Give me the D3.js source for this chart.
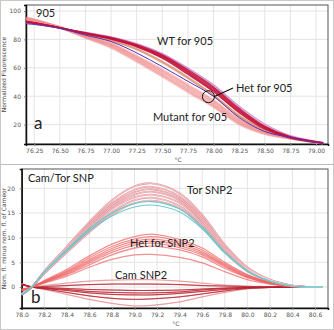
<!DOCTYPE html>
<html>
<head>
<meta charset="utf-8">
<script src="https://cdn.jsdelivr.net/npm/d3@7"></script>
<style>
  body { margin: 0; background: #fff; }
  .tick text { font-family: "DejaVu Sans", sans-serif; font-size: 6px; fill: #555; }
  .note { font-family: Lato, sans-serif; font-size: 11px; fill: #222; }
</style>
</head>
<body>
<script>
// ---- panel a: normalized melt curves ----
var tempsA = [76.17, 76.25, 76.5, 76.75, 77.0, 77.25, 77.5, 77.75, 78.0, 78.25, 78.5, 78.75, 79.0, 79.07]
var ticksA_x = [76.25, 76.5, 76.75, 77.0, 77.25, 77.5, 77.75, 78.0, 78.25, 78.5, 78.75, 79.0]
var ticksA_y = [20, 40, 60, 80, 100]

var mutant905 = [
  [95.3, 94.0, 88.7, 82.9, 77.2, 68.3, 58.6, 48.0, 37.2, 24.0, 15.6, 11.0, 7.8, 7.1],
  [95.0, 93.8, 88.6, 82.5, 76.5, 67.5, 57.5, 46.8, 36.0, 23.0, 15.0, 10.8, 7.7, 7.0],
  [94.5, 93.4, 88.4, 82.0, 75.8, 66.5, 56.3, 45.5, 34.8, 22.0, 14.5, 10.6, 7.6, 7.0],
  [94.0, 93.0, 88.3, 81.6, 75.0, 65.5, 55.0, 44.2, 33.5, 21.2, 14.0, 10.4, 7.6, 7.0],
  [93.6, 92.7, 88.2, 81.2, 74.2, 64.5, 54.0, 43.0, 32.5, 20.3, 13.5, 10.2, 7.5, 6.9]
]
var het905 = [
  [92.2, 91.4, 88.0, 83.6, 79.5, 73.5, 64.5, 53.5, 41.0, 26.5, 16.5, 11.0, 7.8, 7.1],
  [92.4, 91.5, 88.0, 83.3, 79.0, 72.8, 63.6, 52.5, 40.0, 25.8, 16.1, 10.9, 7.8, 7.1]
]
var wt905 = [
  [92.0, 91.3, 88.0, 84.6, 81.3, 76.2, 69.0, 58.5, 46.5, 31.5, 19.0, 11.5, 8.0, 7.2],
  [92.3, 91.5, 88.1, 84.4, 80.9, 75.8, 68.3, 57.5, 45.5, 30.5, 18.3, 11.2, 7.9, 7.1],
  [92.6, 91.7, 88.2, 84.2, 80.5, 75.3, 67.5, 56.5, 44.3, 29.5, 17.7, 10.9, 7.8, 7.0],
  [92.8, 91.8, 88.2, 84.0, 80.2, 74.8, 66.8, 55.5, 43.3, 28.5, 17.0, 10.6, 7.7, 7.0]
]
var lilac905 = [91.5, 90.8, 87.9, 84.9, 81.8, 77.0, 70.0, 59.8, 48.0, 33.0, 20.5, 12.3, 8.3, 7.4]
var purple905 = [91.0, 90.5, 87.8, 83.0, 78.5, 70.5, 60.8, 50.5, 40.0, 25.0, 15.2, 11.0, 7.6, 7.0]

// ---- panel b: difference curves ----
var tempsB = [78.0, 78.09, 78.2, 78.4, 78.6, 78.8, 79.0, 79.15, 79.4, 79.6, 79.8, 80.0, 80.2, 80.4, 80.6, 80.67]
var ticksB_x = [78.0, 78.2, 78.4, 78.6, 78.8, 79.0, 79.2, 79.4, 79.6, 79.8, 80.0, 80.2, 80.4, 80.6]
var ticksB_y = [0, 5, 10, 15, 20]

var torSNP2 = [
  [-1.6, 0, 3.2, 8.2, 13.2, 17.6, 20.4, 21.0, 19.0, 14.6, 8.6, 4.0, 1.5, 0.3, 0, 0],
  [-1.5, 0, 3.1, 8.0, 12.8, 17.0, 19.7, 20.3, 18.4, 14.1, 8.3, 3.8, 1.4, 0.3, 0, 0],
  [-1.5, 0, 3.0, 7.8, 12.5, 16.6, 19.2, 19.8, 17.9, 13.7, 8.0, 3.7, 1.4, 0.3, 0, 0],
  [-1.4, 0, 3.0, 7.6, 12.2, 16.2, 18.7, 19.3, 17.5, 13.4, 7.8, 3.6, 1.3, 0.2, 0, 0],
  [-1.4, 0, 2.9, 7.4, 11.9, 15.8, 18.2, 18.7, 17.0, 13.0, 7.5, 3.4, 1.3, 0.2, 0, 0],
  [-1.4, 0, 2.8, 7.2, 11.5, 15.2, 17.6, 18.1, 16.4, 12.5, 7.2, 3.3, 1.2, 0.2, 0, 0],
  [-1.3, 0, 2.7, 7.0, 11.1, 14.7, 17.0, 17.5, 15.9, 12.1, 7.0, 3.2, 1.2, 0.2, 0, 0]
]
var torCyan = [
  [-1.6, 0, 3.0, 7.6, 11.8, 15.0, 16.9, 17.3, 15.8, 12.2, 7.1, 3.3, 1.2, 0.2, 0, 0],
  [-1.5, 0, 2.9, 7.3, 11.4, 14.4, 16.2, 16.6, 15.2, 11.8, 6.9, 3.2, 1.2, 0.2, 0, 0]
]
var hetSNP2 = [
  [-0.8, 0, 1.3, 3.6, 6.3, 8.7, 10.2, 10.7, 9.6, 7.9, 5.0, 2.5, 1.0, 0.2, 0, 0],
  [-0.7, 0, 1.2, 3.3, 5.9, 8.2, 9.7, 10.2, 9.2, 7.5, 4.7, 2.4, 0.9, 0.2, 0, 0],
  [-0.7, 0, 1.1, 3.1, 5.5, 7.8, 9.3, 9.7, 8.8, 7.1, 4.5, 2.2, 0.9, 0.2, 0, 0],
  [-0.6, 0, 1.0, 2.9, 5.2, 7.4, 8.9, 9.3, 8.4, 6.8, 4.3, 2.1, 0.8, 0.2, 0, 0],
  [-0.6, 0, 1.0, 2.7, 4.9, 7.0, 8.5, 8.9, 8.0, 6.5, 4.1, 2.0, 0.8, 0.1, 0, 0],
  [-0.5, 0, 0.9, 2.5, 4.5, 6.5, 7.9, 8.3, 7.5, 6.1, 3.8, 1.9, 0.7, 0.1, 0, 0],
  [-0.5, 0, 0.8, 2.2, 4.0, 5.6, 6.5, 6.6, 6.0, 4.9, 3.1, 1.5, 0.6, 0.1, 0, 0]
]
var camSNP2 = [
  [0.6, 0, 0.3, 0.8, 1.2, 1.4, 1.5, 1.5, 1.2, 0.8, 0.4, 0.2, 0.1, 0, 0, 0],
  [0.5, 0, 0.1, 0.3, 0.5, 0.6, 0.6, 0.6, 0.5, 0.3, 0.2, 0.1, 0, 0, 0, 0],
  [0.5, 0, -0.1, -0.3, -0.5, -0.6, -0.7, -0.7, -0.6, -0.4, -0.2, -0.1, 0, 0, 0, 0],
  [0.6, 0, -0.2, -0.5, -0.9, -1.1, -1.2, -1.2, -1.0, -0.6, -0.3, -0.1, 0, 0, 0, 0],
  [0.6, 0, -0.3, -0.7, -1.2, -1.5, -1.6, -1.6, -1.3, -0.9, -0.5, -0.2, -0.1, 0, 0, 0],
  [0.6, 0, -0.4, -1.1, -1.8, -2.3, -2.5, -2.4, -2.0, -1.4, -0.8, -0.3, -0.1, 0, 0, 0],
  [0.7, 0, -0.5, -1.5, -2.5, -3.3, -3.8, -3.7, -3.0, -2.0, -1.1, -0.4, -0.1, 0, 0, 0]
]

svgWidth = 334
svgHeight = 330

var svg = d3.select("body").append("svg")
          .attr("width", svgWidth)
          .attr("height", svgHeight)

svg.append("rect")
    .attr("x", 0.5).attr("y", 0.5)
    .attr("width", svgWidth - 1).attr("height", svgHeight - 1)
    .attr("fill", "#fff").attr("stroke", "#c8c8c8")

svg.append("line")
    .attr("x1", 0).attr("x2", svgWidth)
    .attr("y1", 164.5).attr("y2", 164.5)
    .attr("stroke", "#bdbdbd")

function drawPanel(box, xDomain, yDomain, xTicks, yTicks, xFmt, yLabel, yLabelX, yTickRight) {
  var x = d3.scaleLinear().domain(xDomain).range([box.left, box.right])
  var y = d3.scaleLinear().domain(yDomain).range([box.bottom, box.top])

  var g = svg.append("g")

  // grid
  g.selectAll(".vgrid").data(xTicks).enter().append("line")
      .attr("x1", function(d) { return x(d) }).attr("x2", function(d) { return x(d) })
      .attr("y1", box.top).attr("y2", box.bottom)
      .attr("stroke", "#e4e4e4")
  g.selectAll(".hgrid").data(yTicks).enter().append("line")
      .attr("x1", box.left).attr("x2", box.right)
      .attr("y1", function(d) { return y(d) }).attr("y2", function(d) { return y(d) })
      .attr("stroke", "#e4e4e4")

  // frame
  g.append("rect")
      .attr("x", box.left).attr("y", box.top)
      .attr("width", box.right - box.left).attr("height", box.bottom - box.top)
      .attr("fill", "none").attr("stroke", "#555")

  var xAxis = d3.axisBottom(x).tickValues(xTicks).tickFormat(xFmt).tickSize(2).tickPadding(3)
  var gx = g.append("g")
      .attr("transform", "translate(0," + box.bottom + ")")
      .call(xAxis)
  gx.select(".domain").attr("stroke", "#111").attr("stroke-width", 1.5)
  gx.selectAll(".tick line").attr("stroke", "#888")

  var yAxis = d3.axisLeft(y).tickValues(yTicks).tickSize(2).tickPadding(box.left - yTickRight - 2)
  var gy = g.append("g")
      .attr("transform", "translate(" + box.left + ",0)")
      .call(yAxis)
  gy.select(".domain").attr("stroke", "#111").attr("stroke-width", 1.5)
  gy.selectAll(".tick line").attr("stroke", "#888")

  g.append("text")
      .attr("x", (box.left + box.right) / 2 + 1)
      .attr("y", box.bottom + 18)
      .attr("text-anchor", "middle")
      .style("font-family", "DejaVu Sans, sans-serif")
      .style("font-size", "6px").style("fill", "#555")
      .text("°C")

  g.append("text")
      .attr("transform", "translate(" + yLabelX + "," + ((box.top + box.bottom) / 2) + ") rotate(-90)")
      .attr("text-anchor", "middle")
      .style("font-family", "DejaVu Sans, sans-serif")
      .style("font-size", "6px").style("fill", "#444")
      .text(yLabel)

  return {x: x, y: y, g: g}
}

function drawCurves(p, temps, series, color, width, opacity) {
  var line = d3.line()
      .x(function(d, i) { return p.x(temps[i]) })
      .y(function(d) { return p.y(d) })
      .curve(d3.curveCatmullRom.alpha(0.5))
  p.g.append("g").selectAll("path")
      .data(series).enter().append("path")
      .attr("d", line)
      .attr("fill", "none")
      .attr("stroke", color)
      .attr("stroke-width", width)
      .attr("stroke-opacity", opacity)
}

// panel a
var pa = drawPanel({left: 26, right: 328, top: 5, bottom: 144},
    [76.17, 79.117], [6.4, 104.2], ticksA_x, ticksA_y, d3.format(".2f"),
    "Normalized Fluorescence", 6, 21)

drawCurves(pa, tempsA, mutant905, "#f08a8a", 2.2, 0.55)
drawCurves(pa, tempsA, het905, "#d9906e", 1.4, 0.85)
drawCurves(pa, tempsA, [lilac905], "#c48ad6", 1.3, 0.9)
drawCurves(pa, tempsA, wt905, "#c3113a", 1.5, 0.9)
drawCurves(pa, tempsA, [purple905], "#5630b8", 1.0, 1)

pa.g.append("text").attr("class", "note").attr("x", 36).attr("y", 17).text("905")
pa.g.append("text").attr("class", "note").attr("x", 34).attr("y", 129).style("font-size", "17px").text("a")
pa.g.append("text").attr("class", "note").attr("x", 157).attr("y", 44.5).text("WT for 905")
pa.g.append("text").attr("class", "note").attr("x", 153).attr("y", 120.5).text("Mutant for 905")
pa.g.append("text").attr("class", "note").attr("x", 236).attr("y", 91.5).text("Het for 905")

var cx = pa.x(77.95), cy = pa.y(39.7)
pa.g.append("circle").attr("cx", cx).attr("cy", cy).attr("r", 6)
    .attr("fill", "none").attr("stroke", "#111").attr("stroke-width", 1)
pa.g.append("line")
    .attr("x1", cx + 5.5).attr("y1", cy).attr("x2", 233).attr("y2", 88)
    .attr("stroke", "#111").attr("stroke-width", 1.2)

// panel b
var pb = drawPanel({left: 21.7, right: 328, top: 169, bottom: 308},
    [78.0, 80.715], [-4.25, 23.9], ticksB_x, ticksB_y, d3.format(".1f"),
    "Nom. fl. minus nom. fl. of Cameor", 6, 15)

drawCurves(pb, tempsB, camSNP2, "#e58a8f", 1.2, 0.8)
drawCurves(pb, tempsB, camSNP2.slice(1, 6), "#b51e2c", 1.0, 0.8)
drawCurves(pb, tempsB, hetSNP2, "#ee6262", 1.3, 0.7)
drawCurves(pb, tempsB, torSNP2, "#dd7f87", 1.8, 0.8)
drawCurves(pb, tempsB, torSNP2, "#fbe8ea", 0.5, 1)
drawCurves(pb, tempsB, torCyan, "#63c9cc", 1.1, 0.95)

pb.g.append("text").attr("class", "note").attr("x", 28).attr("y", 182).text("Cam/Tor SNP")
pb.g.append("text").attr("class", "note").attr("x", 187).attr("y", 194).text("Tor SNP2")
pb.g.append("text").attr("class", "note").attr("x", 130).attr("y", 247).text("Het for SNP2")
pb.g.append("text").attr("class", "note").attr("x", 115).attr("y", 279).text("Cam SNP2")
pb.g.append("text").attr("class", "note").attr("x", 31).attr("y", 303).style("font-size", "17px").text("b")
</script>
</body>
</html>
